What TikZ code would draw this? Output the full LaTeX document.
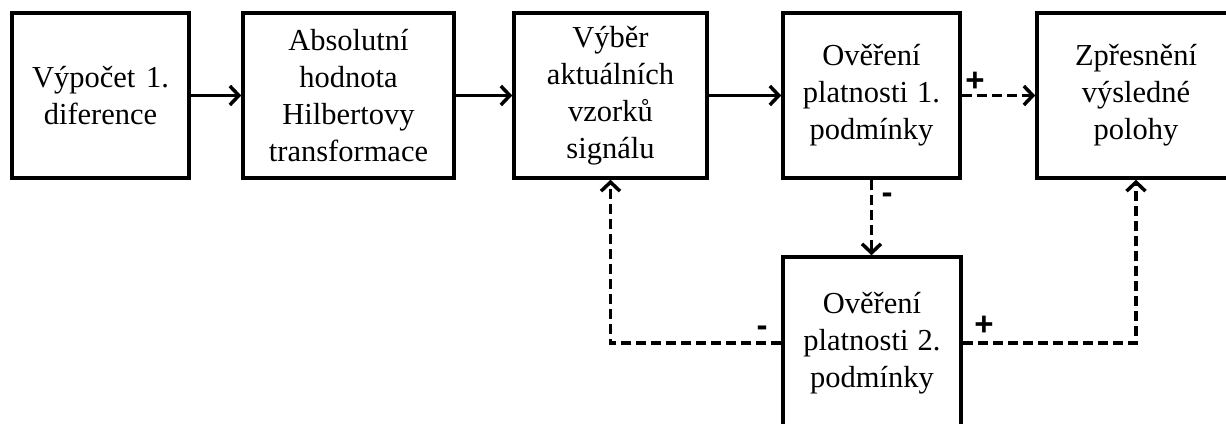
\documentclass[tikz,border=0pt]{standalone}
\usepackage{fontspec}
\setmainfont{Liberation Serif}
\newfontfamily\lblfont{Liberation Sans}
\usetikzlibrary{arrows.meta}
\begin{document}
\begin{tikzpicture}[x=1pt,y=-1pt,
  blk/.style={draw, line width=3.5pt, align=center, inner sep=0pt,
    font=\fontsize{30.5}{37}\selectfont},
  conn/.style={line width=3.5pt, -{Straight Barb[length=9pt,width=19pt]}},
  dconn/.style={conn, dash pattern=on 10pt off 5pt},
  lbl/.style={font=\lblfont\bfseries\fontsize{33}{33}\selectfont, inner sep=0pt, anchor=base}]
\useasboundingbox (0,0) rectangle (1226,423);
\clip (0,0) rectangle (1226,423);
\node[blk, minimum width=177pt, minimum height=165pt] (b1) at (100.5,95.5) {Výpočet\hspace{0.35em}1.\\diference};
\node[blk, minimum width=211pt, minimum height=165pt] (b2) at (348.5,95.5) {Absolutní\\hodnota\\Hilbertovy\\transformace};
\node[blk, minimum width=193pt, minimum height=165pt] (b3) at (610.5,95.5) {Výběr\\aktuálních\\vzorků\\signálu};
\node[blk, minimum width=177pt, minimum height=165pt] (b4) at (871.5,95.5) {Ověření\\platnosti\hspace{0.3em}1.\\podmínky};
\node[blk, minimum width=198pt, minimum height=165pt] (b5) at (1136,95.5) {Zpřesnění\\výsledné\\polohy};
\node[blk, minimum width=178pt, minimum height=172pt] (b6) at (872,343) {Ověření\\platnosti\hspace{0.3em}2.\\podmínky};
\draw[conn] (b1.east) -- (b2.west);
\draw[conn] (b2.east) -- (b3.west);
\draw[conn] (b3.east) -- (b4.west);
\draw[dconn] (b4.east) -- (b5.west);
\draw[dconn] (b4.south) -- (b4.south |- b6.north);
\draw[dconn] (b6.west) -| (b3.south);
\draw[dconn] (b6.east) -| (b5.south);
\node[lbl] (p1) at (975,91) {+};
\node[lbl] (m1) at (887,203) {-};
\node[lbl] (m2) at (762,336) {-};
\node[lbl] (p2) at (984,335) {+};
\end{tikzpicture}
\end{document}
